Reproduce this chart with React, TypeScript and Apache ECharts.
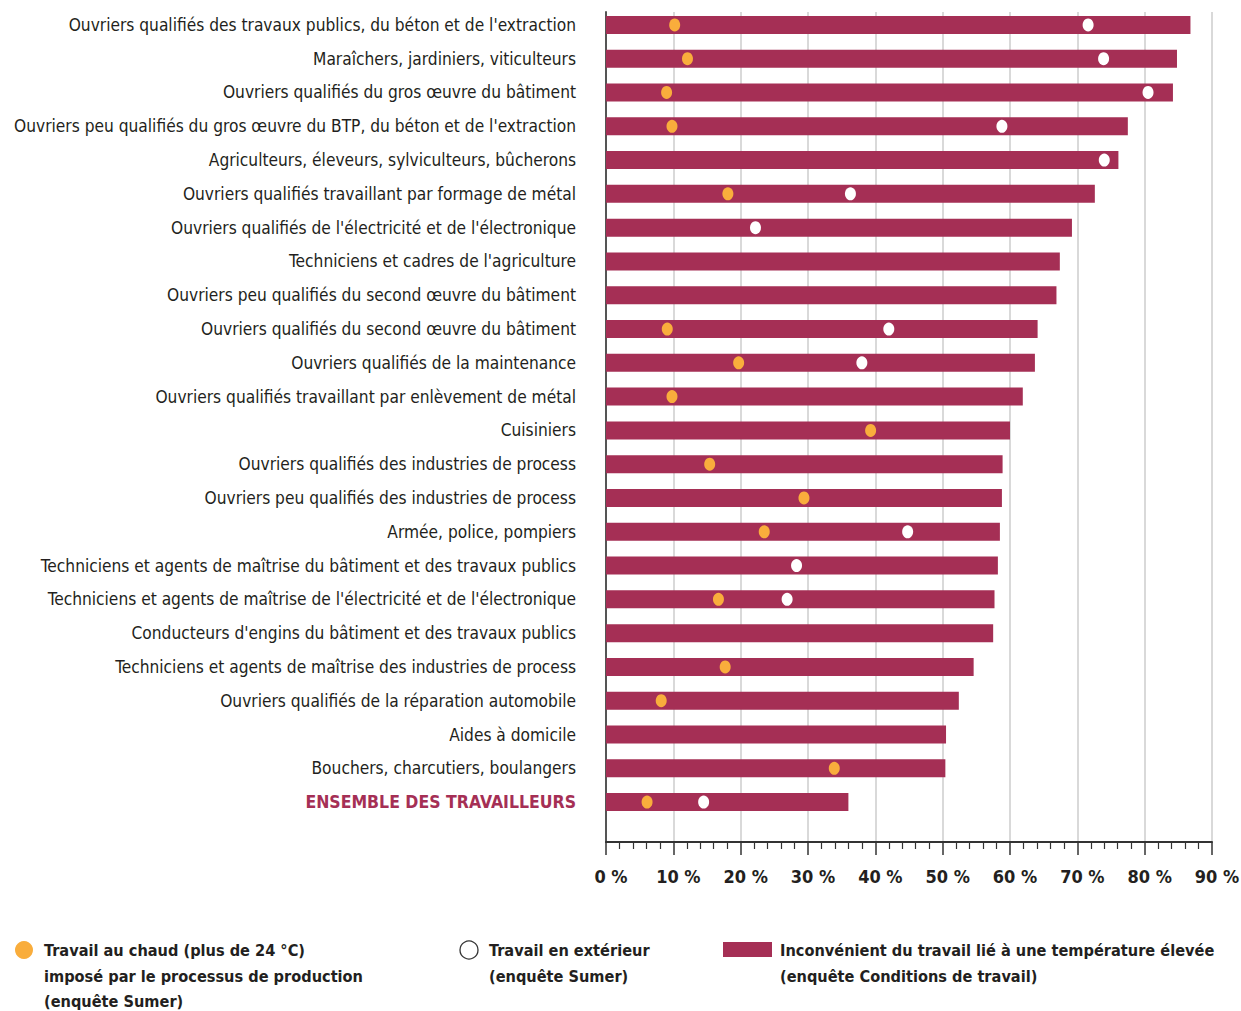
import React, { useEffect, useRef } from "react";
import * as echarts from "echarts";

const categories = [
  "Ouvriers qualifiés des travaux publics, du béton et de l'extraction",
  "Maraîchers, jardiniers, viticulteurs",
  "Ouvriers qualifiés du gros œuvre du bâtiment",
  "Ouvriers peu qualifiés du gros œuvre du BTP, du béton et de l'extraction",
  "Agriculteurs, éleveurs, sylviculteurs, bûcherons",
  "Ouvriers qualifiés travaillant par formage de métal",
  "Ouvriers qualifiés de l'électricité et de l'électronique",
  "Techniciens et cadres de l'agriculture",
  "Ouvriers peu qualifiés du second œuvre du bâtiment",
  "Ouvriers qualifiés du second œuvre du bâtiment",
  "Ouvriers qualifiés de la maintenance",
  "Ouvriers qualifiés travaillant par enlèvement de métal",
  "Cuisiniers",
  "Ouvriers qualifiés des industries de process",
  "Ouvriers peu qualifiés des industries de process",
  "Armée, police, pompiers",
  "Techniciens et agents de maîtrise du bâtiment et des travaux publics",
  "Techniciens et agents de maîtrise de l'électricité et de l'électronique",
  "Conducteurs d'engins du bâtiment et des travaux publics",
  "Techniciens et agents de maîtrise des industries de process",
  "Ouvriers qualifiés de la réparation automobile",
  "Aides à domicile",
  "Bouchers, charcutiers, boulangers",
  "ENSEMBLE DES TRAVAILLEURS",
];

// Inconvénient du travail lié à une température élevée (enquête Conditions de travail)
const temperatureValues = [
  86.8, 84.8, 84.2, 77.5, 76.1, 72.6, 69.2, 67.4, 66.9, 64.1, 63.7, 61.9,
  60.0, 58.9, 58.8, 58.5, 58.2, 57.7, 57.5, 54.6, 52.4, 50.5, 50.4, 36.0,
];

// Travail au chaud imposé par le processus de production (enquête Sumer)
const heatValues: (number | null)[] = [
  10.2, 12.1, 9.0, 9.8, null, 18.1, null, null, null, 9.1, 19.7, 9.8,
  39.3, 15.4, 29.4, 23.5, null, 16.7, null, 17.7, 8.2, null, 33.9, 6.1,
];

// Travail en extérieur (enquête Sumer)
const outdoorValues: (number | null)[] = [
  71.6, 73.9, 80.5, 58.8, 74.0, 36.3, 22.2, null, null, 42.0, 38.0, null,
  null, null, null, 44.8, 28.3, 26.9, null, null, null, null, null, 14.5,
];

const xTicks = [0, 10, 20, 30, 40, 50, 60, 70, 80, 90];

const legendHeat = "Travail au chaud (plus de 24 °C)\nimposé par le processus de production\n(enquête Sumer)";
const legendOutdoor = "Travail en extérieur\n(enquête Sumer)";
const legendTemp = "Inconvénient du travail lié à une température élevée\n(enquête Conditions de travail)";

const CRIMSON = "#a52f55";
const ORANGE = "#f9ad3c";
const TEXT = "#231f20";
const FONT = "'DejaVu Sans Condensed', 'Liberation Sans Narrow', sans-serif";

export default function App() {
  const ref = useRef<HTMLDivElement>(null);

  useEffect(() => {
    document.body.style.margin = "0";
    if (!ref.current) return;
    const chart = echarts.init(ref.current, undefined, { renderer: "svg" });

    const toPoints = (arr: (number | null)[]) =>
      arr.map((v, i) => (v == null ? null : [v, i])).filter((p) => p !== null);

    const legendTextStyle = (text: string) => ({
      text,
      fontSize: 16.2,
      fontWeight: "bold",
      fontFamily: FONT,
      fill: TEXT,
      lineHeight: 25.5,
      verticalAlign: "top",
    });

    const option: any = {
      animation: false,
      backgroundColor: "#ffffff",
      textStyle: { fontFamily: FONT },
      grid: [
        { left: 606, right: 29, top: 8, height: 811, containLabel: false, outerBoundsMode: "none" },
        { left: 606, right: 29, top: 12, bottom: 169, containLabel: false, outerBoundsMode: "none" },
      ],
      xAxis: [
        { gridIndex: 0, type: "value", min: 0, max: 90, interval: 10, show: false },
        {
          gridIndex: 1,
          type: "value",
          min: xTicks[0],
          max: xTicks[xTicks.length - 1],
          interval: 10,
          position: "bottom",
          axisLine: { show: true, lineStyle: { color: "#333333", width: 2 } },
          axisTick: { show: true, length: 13, lineStyle: { color: "#333333", width: 1.5 } },
          minorTick: { show: true, splitNumber: 5, length: 7, lineStyle: { color: "#333333", width: 1.2 } },
          splitLine: { show: true, lineStyle: { color: "#d9d9d9", width: 2 } },
          axisLabel: {
            margin: 25,
            fontSize: 18,
            fontWeight: "bold",
            color: TEXT,
            fontFamily: FONT,
            padding: [0, 0, 0, 10],
            formatter: (v: number) => `${v} %`,
          },
        },
      ],
      yAxis: [
        {
          gridIndex: 0,
          type: "category",
          inverse: true,
          data: categories,
          axisLine: { show: false },
          axisTick: { show: false },
          splitLine: { show: false },
          axisLabel: {
            margin: 30,
            fontSize: 17.2,
            color: TEXT,
            fontFamily: FONT,
            formatter: (val: string, idx: number) =>
              idx === categories.length - 1 ? `{ens|${val}}` : val,
            rich: {
              ens: { fontSize: 17.5, fontWeight: "bold", color: CRIMSON, fontFamily: FONT },
            },
          },
        },
        {
          gridIndex: 1,
          type: "value",
          min: 0,
          max: 1,
          axisLine: { show: true, lineStyle: { color: "#555555", width: 2 } },
          axisTick: { show: false },
          axisLabel: { show: false },
          splitLine: { show: false },
        },
      ],
      series: [
        {
          name: "Inconvénient du travail lié à une température élevée",
          type: "bar",
          xAxisIndex: 0,
          yAxisIndex: 0,
          data: temperatureValues,
          barWidth: 18,
          itemStyle: { color: CRIMSON },
          z: 3,
        },
        {
          name: "Travail au chaud",
          type: "scatter",
          xAxisIndex: 0,
          yAxisIndex: 0,
          data: toPoints(heatValues),
          symbol: "circle",
          symbolSize: [11, 13],
          itemStyle: { color: ORANGE, opacity: 1 },
          z: 4,
        },
        {
          name: "Travail en extérieur",
          type: "scatter",
          xAxisIndex: 0,
          yAxisIndex: 0,
          data: toPoints(outdoorValues),
          symbol: "circle",
          symbolSize: [11, 13],
          itemStyle: { color: "#ffffff", opacity: 1 },
          z: 4,
        },
      ],
      graphic: [
        { type: "circle", shape: { cx: 24, cy: 950, r: 9 }, style: { fill: ORANGE } },
        { type: "text", x: 44, y: 938, style: legendTextStyle(legendHeat) },
        {
          type: "circle",
          shape: { cx: 469, cy: 950, r: 9 },
          style: { fill: "#ffffff", stroke: "#333333", lineWidth: 1.3 },
        },
        { type: "text", x: 489, y: 938, style: legendTextStyle(legendOutdoor) },
        { type: "rect", shape: { x: 723, y: 942, width: 49, height: 15 }, style: { fill: CRIMSON } },
        { type: "text", x: 780, y: 938, style: legendTextStyle(legendTemp) },
      ],
    };

    chart.setOption(option);
    return () => chart.dispose();
  }, []);

  return <div ref={ref} style={{ width: 1241, height: 1011 }} />;
}
